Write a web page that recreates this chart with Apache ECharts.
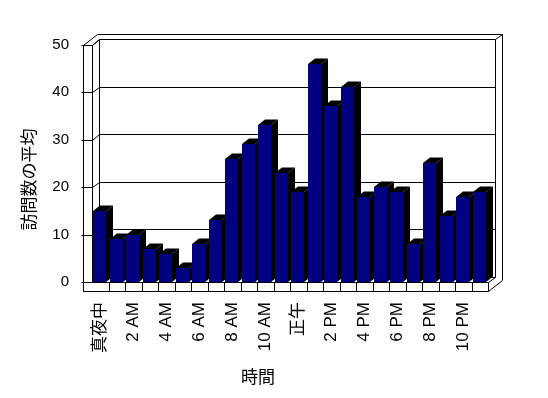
<!DOCTYPE html>
<html>
<head>
<meta charset="utf-8">
<script src="https://cdn.jsdelivr.net/npm/echarts@6/dist/echarts.min.js"></script>
<style>html,body{margin:0;padding:0;background:#fff}#c{width:548px;height:398px}</style>
</head>
<body>
<div id="c"></div>
<script>
const hours = ['真夜中','1 AM','2 AM','3 AM','4 AM','5 AM','6 AM','7 AM','8 AM','9 AM','10 AM','11 AM',
               '正午','1 PM','2 PM','3 PM','4 PM','5 PM','6 PM','7 PM','8 PM','9 PM','10 PM','11 PM'];
const visits = [15, 9, 10, 7, 6, 3, 8, 13, 26, 29, 33, 23, 19, 46, 37, 41, 18, 20, 19, 8, 25, 14, 18, 19];
const yTicks = [0, 10, 20, 30, 40, 50];
const yTitle = '訪問数の平均';
const xTitle = '時間';

const NAVY = '#000080';
const DX = 6.6, DY = -5.2;      // depth of back plane
const WALL = 8.8, FLOOR = 9;    // wall / floor thickness
const BDX = 7, BDY = -5.5;      // bar depth

function px(v){ return Math.round(v) + 0.5; }
function line(x1,y1,x2,y2){
  return {type:'line', shape:{x1:x1,y1:y1,x2:x2,y2:y2}, style:{stroke:'#000', lineWidth:1}};
}

function renderFrame(params, api){
  const c0 = api.coord([0, 0]);
  const bw = api.size([1, 0])[0];
  const L = c0[0] - bw/2, R = L + hours.length*bw;
  const yB = c0[1], yT = api.coord([0, yTicks[yTicks.length-1]])[1];
  const OL = px(L - WALL), IL = px(L), BL = px(L + DX), BR = px(R + DX), FR = px(R);
  const topO = px(yT + DY - 5), topI = px(yT + DY), bB = px(yB + DY), fB = px(yB), fF = px(yB + FLOOR);
  const RO = px(R + DX + 7);
  const ch = [];
  ch.push({type:'rect', shape:{x:BL, y:topI, width:BR-BL, height:bB-topI}, style:{fill:'#fff', stroke:'#000', lineWidth:1}});
  yTicks.forEach(function(v){
    const yf = px(api.coord([0, v])[1]);
    const yb = px(api.coord([0, v])[1] + DY);
    if (v > 0 && v < yTicks[yTicks.length-1]) ch.push(line(BL, yb, BR, yb));
    ch.push(line(OL - 2, yf, IL, yf));
    ch.push(line(IL, yf, BL, yb));
  });
  ch.push(line(OL, px(yT), OL, fF));
  ch.push(line(IL, px(yT), IL, fB));
  ch.push(line(OL, px(yT), IL, px(yT)));
  ch.push(line(OL, px(yT), px(L - WALL + 13.6), topO));
  ch.push(line(IL, px(yT), BL, topI));
  ch.push(line(px(L - WALL + 13.6), topO, RO, topO));
  ch.push(line(BR, topI, RO, topO));
  ch.push(line(RO, topO, RO, px(yB - 2)));
  ch.push(line(RO, px(yB - 2), FR, fF));
  ch.push(line(FR, fB, BR, bB));
  ch.push({type:'rect', shape:{x:OL, y:fB, width:FR-OL, height:fF-fB}, style:{fill:'#fff', stroke:'#000', lineWidth:1}});
  for (let k = 1; k < hours.length; k++) {
    const x = px(L + k*bw);
    ch.push(line(x, fB, x, fF));
  }
  return {type:'group', children: ch};
}

function renderBar(params, api){
  const i = api.value(0), v = api.value(1);
  const p = api.coord([i, v]);
  const b = api.coord([i, 0]);
  const bw = api.size([1, 0])[0];
  const w = bw * 0.77;
  const x0 = Math.round(p[0] - w/2 - 0.4), x1 = Math.round(p[0] - w/2 - 0.4 + w);
  const yt = Math.round(p[1]), yb = Math.round(b[1]);
  return {type:'group', children:[
    {type:'polygon', shape:{points:[[x1,yt],[x1+BDX,yt+BDY],[x1+BDX,yb+BDY],[x1,yb]]}, style:{fill:'#000'}},
    {type:'polygon', shape:{points:[[x0,yt],[x0+BDX,yt+BDY],[x1+BDX,yt+BDY],[x1,yt]]}, style:{fill:'#000'}},
    {type:'rect', shape:{x:x0, y:yt, width:x1-x0, height:yb-yt}, style:{fill:NAVY}}
  ]};
}

const chart = echarts.init(document.getElementById('c'), null, {renderer:'canvas'});
chart.setOption({
  animation: false,
  backgroundColor: '#fff',
  grid: {left: 92, right: 60, top: 44.5, bottom: 116, containLabel: false},
  xAxis: {
    type: 'category', data: hours,
    axisLine: {show: false}, axisTick: {show: false}, splitLine: {show: false},
    axisLabel: {interval: 1, rotate: 90, margin: 20, fontSize: 17, color: '#000',
                fontFamily: '"Liberation Sans", "Noto Sans CJK JP", sans-serif'}
  },
  yAxis: {
    type: 'value', min: 0, max: 50, interval: 10, offset: 9,
    axisLine: {show: false}, axisTick: {show: false}, splitLine: {show: false},
    axisLabel: {margin: 14, fontSize: 15, color: '#000', fontFamily: '"Liberation Sans", sans-serif'}
  },
  graphic: [
    {type:'text', x: 29, y: 179.5, rotation: Math.PI/2,
     style:{text: yTitle, fill:'#000', font:'17px "Noto Sans CJK JP"', textAlign:'center', textVerticalAlign:'middle'}},
    {type:'text', x: 258, y: 377,
     style:{text: xTitle, fill:'#000', font:'17px "Noto Sans CJK JP"', textAlign:'center', textVerticalAlign:'middle'}}
  ],
  series: [
    {type:'custom', data:[[0, 0]], renderItem: renderFrame, clip:false, z:1, silent:true},
    {type:'custom', data: visits.map(function(v,i){ return [i, v]; }), renderItem: renderBar, clip:false, z:2, silent:true}
  ]
});
</script>
</body>
</html>
